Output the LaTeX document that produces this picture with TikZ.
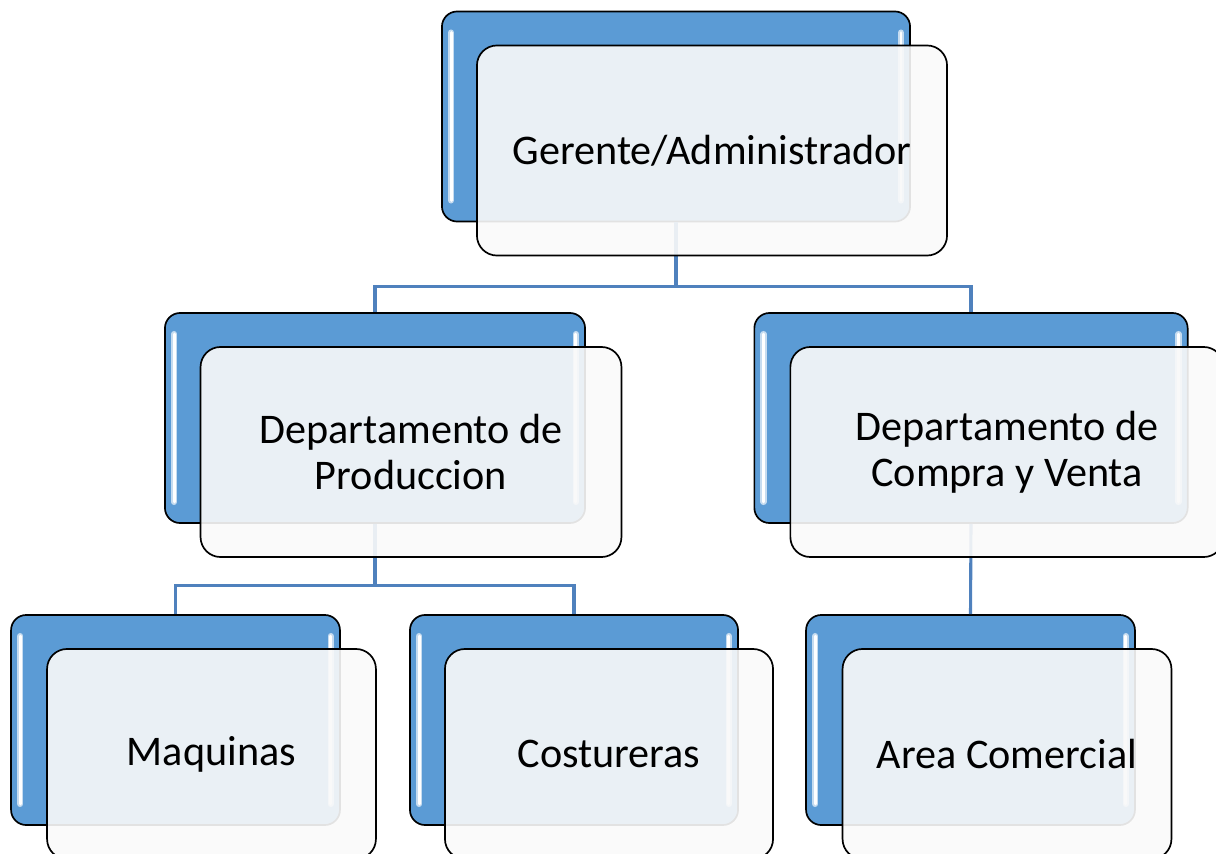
\documentclass[tikz,border=0pt]{standalone}
\usepackage{fontspec}
\setmainfont{Carlito}
\usepackage{tikz}
\usetikzlibrary{positioning}

\definecolor{boxblue}{HTML}{5B9BD5}
\definecolor{linkblue}{HTML}{4F81BD}
\definecolor{paper}{HTML}{F9F9F9}

\begin{document}
\begin{tikzpicture}[x=0.025cm,y=-0.025cm,
    backbox/.style={draw=black,line width=1.2pt,fill=boxblue,rounded corners=0.38cm,
      minimum height=5.25cm,inner sep=0pt},
    frontbox/.style={draw=black,line width=1.2pt,fill=paper,fill opacity=0.91,text opacity=1,
      rounded corners=0.5cm,minimum height=5.25cm,inner sep=0pt,align=center,
      font=\fontsize{30}{33}\selectfont},
    glint/.style={white,line width=2pt,line cap=round},
    glow/.style={boxblue!35!white,line width=4.5pt,line cap=round},
    link/.style={linkblue,line width=2.2pt}]
  \useasboundingbox (0,0) rectangle (1216,854);

  % back boxes
  \node[backbox,minimum width=11.7cm]  (B-1) at (676,116.5) {};
  \node[backbox,minimum width=10.5cm]  (B-2) at (375,418) {};
  \node[backbox,minimum width=10.83cm] (B-3) at (971,418) {};
  \node[backbox,minimum width=8.22cm]  (B-4) at (175.5,720) {};
  \node[backbox,minimum width=8.2cm]   (B-5) at (574,720) {};
  \node[backbox,minimum width=8.22cm]  (B-6) at (970.5,720) {};

  % light edges
  \foreach \b in {B-1,B-2,B-3,B-4,B-5,B-6} {
    \draw[glow] ([shift={(10,22)}]\b.north west) -- ([shift={(10,-22)}]\b.south west);
    \draw[glint] ([shift={(10,22)}]\b.north west) -- ([shift={(10,-22)}]\b.south west);
    \draw[glow] ([shift={(-10,22)}]\b.north east) -- ([shift={(-10,-22)}]\b.south east);
    \draw[glint] ([shift={(-10,22)}]\b.north east) -- ([shift={(-10,-22)}]\b.south east);
  }

  % connectors
  \draw[link] (B-1.south) -- ++(0,64) -| (B-2.north);
  \draw[link] (B-1.south) -- ++(0,64) -| (B-3.north);
  \draw[link] (B-2.south) -- ++(0,62) -| (B-4.north);
  \draw[link] (B-2.south) -- ++(0,62) -| (B-5.north);
  \draw[link] (B-3.south) -- (B-6.north);

  % front boxes
  \node[frontbox,minimum width=11.75cm] (F-1) at (712,150.5) {Gerente/Administrador};
  \node[frontbox,minimum width=10.52cm] (F-2) at (411,452) {Departamento de\\Produccion};
  \node[frontbox,minimum width=10.83cm] (F-3) at (1007,452) {Departamento de\\Compra y Venta};
  \node[frontbox,minimum width=8.22cm]  (F-4) at (211.5,754) {Maquinas};
  \node[frontbox,minimum width=8.2cm]   (F-5) at (609,754) {Costureras};
  \node[frontbox,minimum width=8.22cm]  (F-6) at (1007,754) {Area Comercial};
\end{tikzpicture}
\end{document}
